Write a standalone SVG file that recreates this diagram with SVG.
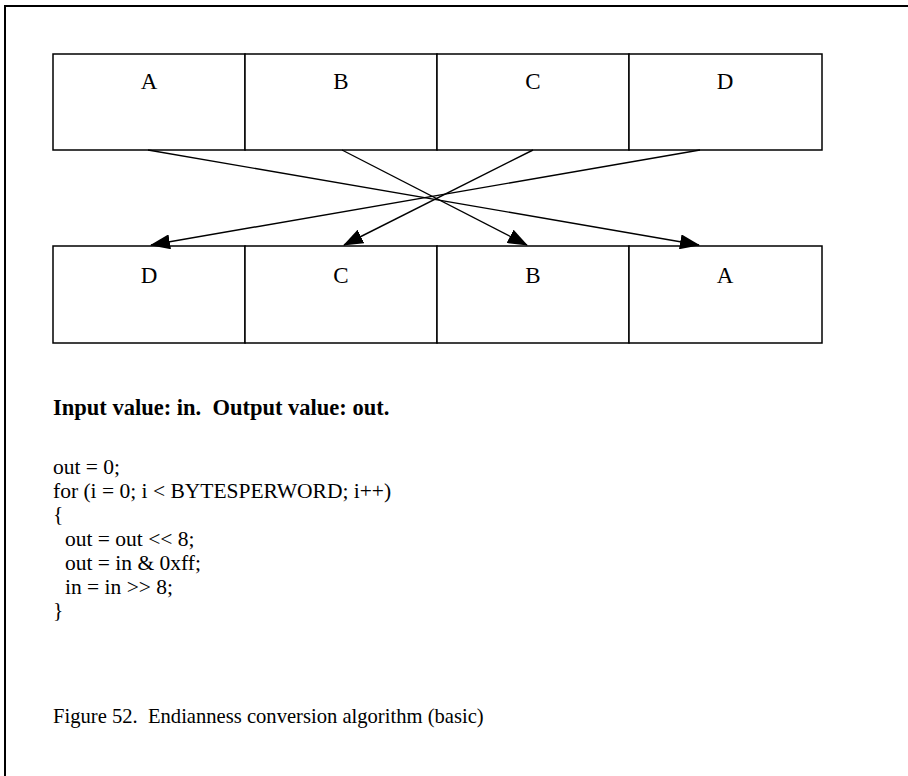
<svg xmlns="http://www.w3.org/2000/svg" width="908" height="776" viewBox="0 0 908 776">
  <defs>
    <marker id="arrow" markerWidth="20" markerHeight="15" refX="19" refY="7.5" orient="auto" markerUnits="userSpaceOnUse">
      <path d="M0,0 L20,7.5 L0,15 Z" fill="#000"/>
    </marker>
    <style>
      .cell { fill: #fff; stroke: #000; stroke-width: 1.5; }
      .lbl { font-family: "Liberation Serif", "Times New Roman", serif; font-size: 23px; fill: #000; text-anchor: middle; }
      .txt { font-family: "Liberation Serif", "Times New Roman", serif; font-size: 21.5px; fill: #000; }
      .bold { font-weight: bold; font-size: 22.5px; }
      .cap { font-size: 20.6px; }
      .conn { stroke: #000; stroke-width: 1.4; fill: none; marker-end: url(#arrow); }
    </style>
  </defs>
  <rect width="908" height="776" fill="#fff"/>
  <!-- outer frame (continues past the right and bottom edges) -->
  <path d="M5,780 L5,6 L912,6" fill="none" stroke="#000" stroke-width="2"/>

  <!-- input word -->
  <g id="in-A"><rect class="cell" x="53" y="54" width="192" height="96"/><text class="lbl" x="149" y="89">A</text></g>
  <g id="in-B"><rect class="cell" x="245" y="54" width="192" height="96"/><text class="lbl" x="341" y="89">B</text></g>
  <g id="in-C"><rect class="cell" x="437" y="54" width="192" height="96"/><text class="lbl" x="533" y="89">C</text></g>
  <g id="in-D"><rect class="cell" x="629" y="54" width="193" height="96"/><text class="lbl" x="725" y="89">D</text></g>

  <!-- output word -->
  <g id="out-D"><rect class="cell" x="53" y="246" width="192" height="97"/><text class="lbl" x="149" y="283">D</text></g>
  <g id="out-C"><rect class="cell" x="245" y="246" width="192" height="97"/><text class="lbl" x="341" y="283">C</text></g>
  <g id="out-B"><rect class="cell" x="437" y="246" width="192" height="97"/><text class="lbl" x="533" y="283">B</text></g>
  <g id="out-A"><rect class="cell" x="629" y="246" width="193" height="97"/><text class="lbl" x="725" y="283">A</text></g>

  <!-- byte moves -->
  <g id="connectors">
    <line class="conn" x1="148" y1="150" x2="699" y2="245"/>
    <line class="conn" x1="342" y1="150" x2="527" y2="245"/>
    <line class="conn" x1="533" y1="150" x2="344" y2="245"/>
    <line class="conn" x1="700" y1="150" x2="151" y2="245"/>
  </g>

  <!-- algorithm text -->
  <g id="code">
    <text class="txt bold" x="53" y="415" xml:space="preserve">Input value: in.  Output value: out.</text>
    <text class="txt" x="53" y="474">out = 0;</text>
    <text class="txt" x="53" y="498">for (i = 0; i &lt; BYTESPERWORD; i++)</text>
    <text class="txt" x="53" y="521">{</text>
    <text class="txt" x="65" y="546">out = out &lt;&lt; 8;</text>
    <text class="txt" x="65" y="570">out = in &amp; 0xff;</text>
    <text class="txt" x="65" y="594">in = in &gt;&gt; 8;</text>
    <text class="txt" x="53" y="617">}</text>
  </g>
  <text id="caption" class="txt cap" x="53" y="723" xml:space="preserve">Figure 52.  Endianness conversion algorithm (basic)</text>
</svg>
